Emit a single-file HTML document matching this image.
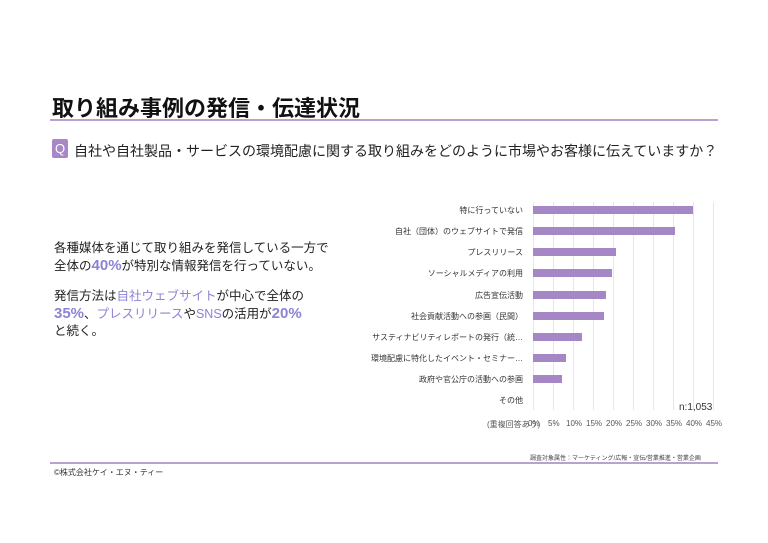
<!DOCTYPE html>
<html><head><meta charset="utf-8"><style>
body{margin:0;width:768px;height:543px;background:#fff;position:relative;overflow:hidden;font-family:"Liberation Sans","Noto Sans CJK JP",sans-serif;color:#222}
.a{position:absolute;white-space:nowrap}
.h{color:#8b83d6}
.b{font-weight:bold}
.lbl{position:absolute;right:245px;font-size:8px;color:#333;white-space:nowrap}
.bar{position:absolute;left:533px;height:8px;background:#a687c6}
.g{position:absolute;top:202px;height:208px;width:1px;background:#e6e6e6}
.t{position:absolute;top:419px;font-size:8px;color:#555}
</style></head><body>
<div class="a b" style="left:52px;top:91px;font-size:22px;color:#111">取り組み事例の発信・伝達状況</div>
<div class="a" style="left:50px;top:119px;width:668px;height:2px;background:#b8a2d2"></div>
<div class="a" style="left:52px;top:139px;width:16px;height:19px;background:#a887c8;border-radius:2px;color:#fff;font-size:13px;text-align:center;line-height:19px">Q</div>
<div class="a" style="left:74px;top:141px;font-size:14px;color:#222">自社や自社製品・サービスの環境配慮に関する取り組みをどのように市場やお客様に伝えていますか？</div>
<div class="a" style="left:54px;top:240px;font-size:12.5px;line-height:17px;color:#222">各種媒体を通じて取り組みを発信している一方で<br>全体の<span class="h b" style="font-size:15px">40%</span>が特別な情報発信を行っていない。</div>
<div class="a" style="left:54px;top:288px;font-size:12.5px;line-height:17px;color:#222">発信方法は<span class="h">自社ウェブサイト</span>が中心で全体の<br><span class="h b" style="font-size:15px">35%</span>、<span class="h">プレスリリース</span>や<span class="h">SNS</span>の活用が<span class="h b" style="font-size:15px">20%</span><br>と続く。</div>
<div class="g" style="left:533px"></div><div class="g" style="left:553px"></div><div class="g" style="left:573px"></div><div class="g" style="left:593px"></div><div class="g" style="left:613px"></div><div class="g" style="left:633px"></div><div class="g" style="left:653px"></div><div class="g" style="left:673px"></div><div class="g" style="left:693px"></div><div class="g" style="left:713px"></div>
<div class="lbl" style="top:205px">特に行っていない</div><div class="bar" style="top:206px;width:160px"></div>
<div class="lbl" style="top:226px">自社（団体）のウェブサイトで発信</div><div class="bar" style="top:227px;width:142px"></div>
<div class="lbl" style="top:247px">プレスリリース</div><div class="bar" style="top:248px;width:83px"></div>
<div class="lbl" style="top:268px">ソーシャルメディアの利用</div><div class="bar" style="top:269px;width:79px"></div>
<div class="lbl" style="top:290px">広告宣伝活動</div><div class="bar" style="top:291px;width:73px"></div>
<div class="lbl" style="top:311px">社会貢献活動への参画（民間）</div><div class="bar" style="top:312px;width:71px"></div>
<div class="lbl" style="top:332px">サスティナビリティレポートの発行（統…</div><div class="bar" style="top:333px;width:49px"></div>
<div class="lbl" style="top:353px">環境配慮に特化したイベント・セミナー…</div><div class="bar" style="top:354px;width:33px"></div>
<div class="lbl" style="top:374px">政府や官公庁の活動への参画</div><div class="bar" style="top:375px;width:29px"></div>
<div class="lbl" style="top:395px">その他</div>
<div class="a" style="left:679px;top:402px;font-size:10px;color:#333">n:1,053</div>
<div class="t" style="left:487px">(重複回答あり)</div>
<div class="t" style="left:528px">0%</div><div class="t" style="left:548px">5%</div><div class="t" style="left:566px">10%</div><div class="t" style="left:586px">15%</div><div class="t" style="left:606px">20%</div><div class="t" style="left:626px">25%</div><div class="t" style="left:646px">30%</div><div class="t" style="left:666px">35%</div><div class="t" style="left:686px">40%</div><div class="t" style="left:706px">45%</div>
<div class="a" style="left:530px;top:453px;font-size:6px;color:#444">調査対象属性：マーケティング/広報・宣伝/営業推進・営業企画</div>
<div class="a" style="left:50px;top:462px;width:668px;height:2px;background:#b8a2d2"></div>
<div class="a" style="left:54px;top:467px;font-size:8px;color:#333">©株式会社ケイ・エヌ・ティー</div>
</body></html>
